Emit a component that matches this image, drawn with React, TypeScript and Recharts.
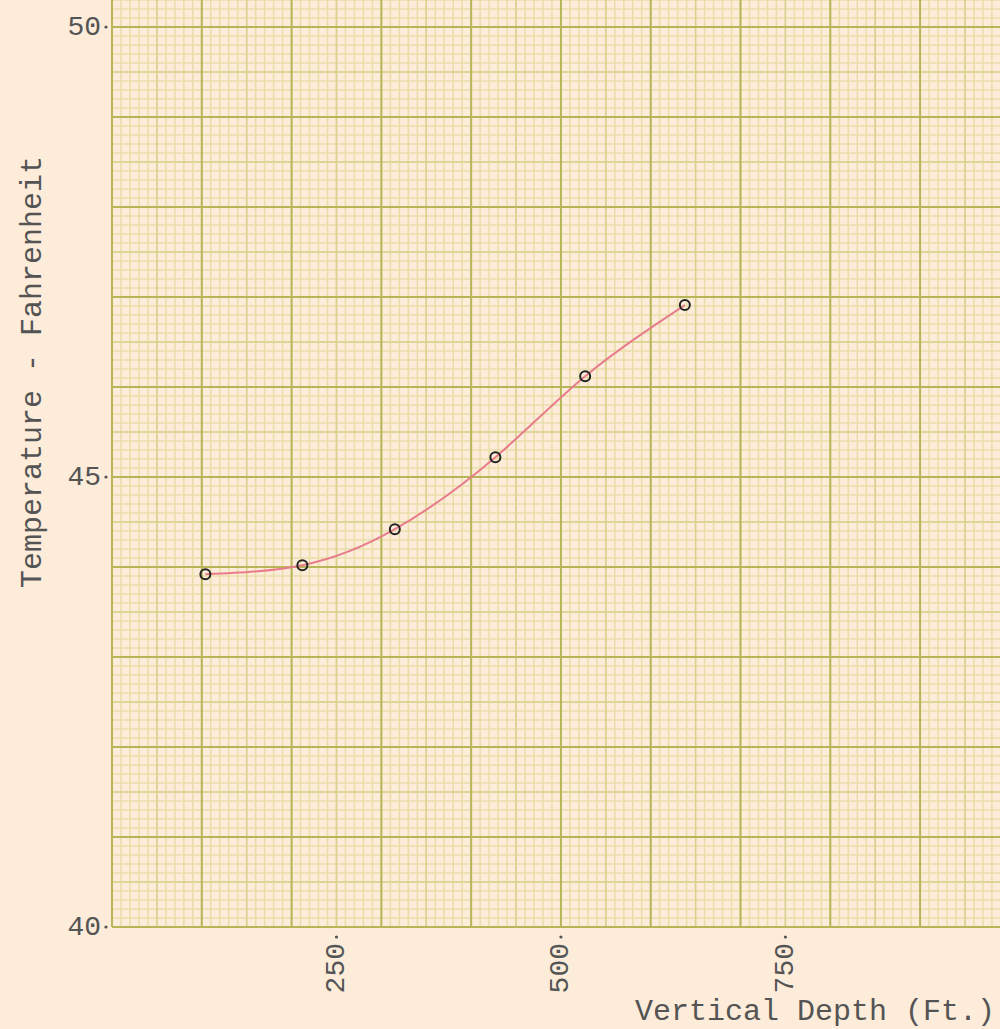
import { Line, LineChart, ReferenceLine, XAxis, YAxis } from "recharts";

// readings taken off the plot
const depthFt = [104, 212, 315, 427, 527, 638];
const tempF = [43.92, 44.02, 44.42, 45.22, 46.12, 46.91];

const xTicks = [250, 500, 750];
const yTicks = [40, 45, 50];

const rows = depthFt.map((d, i) => ({ depth: d, temp: tempF[i] }));

// graph paper rulings, in data units
const xMinor: number[] = [];
for (let v = 0; v <= 980; v += 10) xMinor.push(v);
const xMedium = xMinor.filter((v) => v % 100 === 50);
const xMajor = xMinor.filter((v) => v % 100 === 0);

const yMinor: number[] = [];
for (let i = 0; i <= 103; i++) yMinor.push(Math.round((40 + i * 0.1) * 10) / 10);
const yMedium = yMinor.filter((v) => Math.round(v * 10) % 10 === 5);
const yMajor = yMinor.filter((v) => Math.round(v * 10) % 10 === 0);

const PAPER = "#fcecd9";
const MINOR = "#e8dea8";
const MEDIUM = "#d9d190";
const MAJOR = "#b6b659";
const INK = "#545454";
const FONT = "'Liberation Mono', 'Courier New', monospace";

function YTick({ x, y, payload }: any) {
  return (
    <g>
      <circle cx={x + 2} cy={y} r={1.6} fill={INK} />
      <text x={x - 3} y={y} textAnchor="end" dominantBaseline="central" fontSize={28} fontFamily={FONT} fill={INK}>
        {payload.value}
      </text>
    </g>
  );
}

function XTick({ x, y, payload }: any) {
  return (
    <g>
      <circle cx={x} cy={y + 2} r={1.6} fill={INK} />
      <text
        x={x}
        y={y + 8}
        transform={`rotate(-90, ${x}, ${y + 8})`}
        textAnchor="end"
        dominantBaseline="central"
        fontSize={28}
        fontFamily={FONT}
        fill={INK}
      >
        {payload.value}
      </text>
    </g>
  );
}

function Dot({ cx, cy }: any) {
  return <circle cx={cx} cy={cy} r={5} fill="none" stroke="#222" strokeWidth={2} />;
}

export default function App() {
  return (
    <div style={{ position: "absolute", left: 0, top: 0, width: 1000, height: 1029, background: PAPER }}>
      <LineChart width={1000} height={1029} data={rows} margin={{ top: 0, right: 0, bottom: 0, left: 0 }}>
        <XAxis
          type="number"
          dataKey="depth"
          domain={[0, 989]}
          ticks={xTicks}
          tick={<XTick />}
          tickLine={false}
          axisLine={false}
          height={102}
          interval={0}
          label={({ viewBox }: any) => (
            <text
              x={viewBox.x + viewBox.width - 5}
              y={viewBox.y + 93}
              textAnchor="end"
              fontSize={30}
              fontFamily={FONT}
              fill={INK}
            >
              Vertical Depth (Ft.)
            </text>
          )}
        />
        <YAxis
          type="number"
          domain={[40, 50.3]}
          ticks={yTicks}
          tick={<YTick />}
          tickLine={false}
          axisLine={false}
          width={112}
          interval={0}
          label={({ viewBox }: any) => {
            const cx = 33;
            const cy = viewBox.y + 372;
            return (
              <text
                x={cx}
                y={cy}
                transform={`rotate(-90, ${cx}, ${cy})`}
                textAnchor="middle"
                dominantBaseline="central"
                fontSize={30}
                fontFamily={FONT}
                fill={INK}
              >
                Temperature - Fahrenheit
              </text>
            );
          }}
        />
        {xMinor.map((v) => (
          <ReferenceLine key={`xm${v}`} x={v} stroke={MINOR} strokeWidth={1.5} />
        ))}
        {yMinor.map((v) => (
          <ReferenceLine key={`ym${v}`} y={v} stroke={MINOR} strokeWidth={1.5} />
        ))}
        {xMedium.map((v) => (
          <ReferenceLine key={`xd${v}`} x={v} stroke={MEDIUM} strokeWidth={1.5} />
        ))}
        {yMedium.map((v) => (
          <ReferenceLine key={`yd${v}`} y={v} stroke={MEDIUM} strokeWidth={1.5} />
        ))}
        {xMajor.map((v) => (
          <ReferenceLine key={`xM${v}`} x={v} stroke={MAJOR} strokeWidth={2} />
        ))}
        {yMajor.map((v) => (
          <ReferenceLine key={`yM${v}`} y={v} stroke={MAJOR} strokeWidth={2} />
        ))}
        <Line
          type="natural"
          dataKey="temp"
          stroke="#e97c8c"
          strokeWidth={2}
          dot={<Dot />}
          activeDot={false}
          isAnimationActive={false}
        />
      </LineChart>
    </div>
  );
}
